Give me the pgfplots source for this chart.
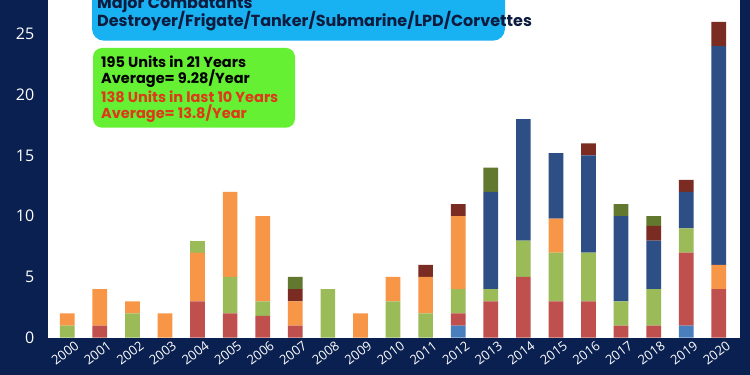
\documentclass[border=0pt]{standalone}
\usepackage{pgfplots}
\pgfplotsset{compat=1.18}
\usepackage{pgfplotstable}
\usepackage{fontspec}
\setmainfont{Open Sans}
\newfontfamily\pop{Poppins}
\definecolor{bg}{HTML}{0A2050}
\definecolor{cblue}{HTML}{4A7FBD}
\definecolor{cred}{HTML}{C0504D}
\definecolor{cgreen}{HTML}{9BBB59}
\definecolor{corange}{HTML}{F79646}
\definecolor{cnavy}{HTML}{2E4F86}
\definecolor{cdred}{HTML}{7A2C22}
\definecolor{colive}{HTML}{62782E}
\definecolor{cyanbox}{HTML}{18B2F2}
\definecolor{greenbox}{HTML}{66F033}
\definecolor{boxtext}{HTML}{0D1B3E}
\definecolor{redtext}{HTML}{DD3A1A}

\pgfplotstableread{
x blue red green orange greenb navy dred olive
0  0 0   1   1   0 0   0   0
1  0 1   0   3   0 0   0   0
2  0 0   2   1   0 0   0   0
3  0 0   0   2   0 0   0   0
4  0 3   0   4   1 0   0   0
5  0 2   3   7   0 0   0   0
6  0 1.8 1.2 7   0 0   0   0
7  0 1   0   2   0 0   1   1
8  0 0   4   0   0 0   0   0
9  0 0   0   2   0 0   0   0
10 0 0   3   2   0 0   0   0
11 0 0   2   3   0 0   1   0
12 1 1   2   6   0 0   1   0
13 0 3   1   0   0 8   0   2
14 0 5   3   0   0 10  0   0
15 0 3   4   2.8 0 5.4 0   0
16 0 3   4   0   0 8   1   0
17 0 1   2   0   0 7   0   1
18 0 1   3   0   0 4   1.2 0.8
19 1 6   2   0   0 3   1   0
20 0 4   0   2   0 18  2   0
}\data

\begin{document}
\begin{tikzpicture}[x=1pt,y=1pt]
\useasboundingbox (-47.7,-37.3) rectangle (702.3,337.7);
\fill[bg] (-47.7,-37.3) rectangle (702.3,337.7);
\begin{axis}[
  at={(0,0)}, anchor=south west,
  scale only axis, width=692.3pt, height=337.7pt,
  xmin=-0.6, xmax=20.65, ymin=0, ymax=27.8,
  ybar stacked, bar width=14.7pt,
  axis background/.style={fill=white},
  axis line style={draw=none},
  major tick length=0pt,
  xtick={0,...,20},
  xticklabels={2000,2001,2002,2003,2004,2005,2006,2007,2008,2009,2010,2011,2012,2013,2014,2015,2016,2017,2018,2019,2020},
  ytick={0,5,10,15,20,25},
  /pgf/number format/assume math mode=true,
  yticklabel style={text=white, font=\fontsize{16}{16}\selectfont, xshift=-10pt},
  xticklabel style={text=white, font=\fontsize{13}{13}\selectfont, rotate=37, anchor=north east, inner sep=1pt, xshift=5pt, yshift=-5pt},
  every axis plot/.append style={draw=none},
]
\addplot[fill=cblue] table[x=x,y=blue]{\data};
\addplot[fill=cred] table[x=x,y=red]{\data};
\addplot[fill=cgreen] table[x=x,y=green]{\data};
\addplot[fill=corange] table[x=x,y=orange]{\data};
\addplot[fill=cgreen] table[x=x,y=greenb]{\data};
\addplot[fill=cnavy] table[x=x,y=navy]{\data};
\addplot[fill=cdred] table[x=x,y=dred]{\data};
\addplot[fill=colive] table[x=x,y=olive]{\data};
\end{axis}
\fill[cyanbox, rounded corners=12pt] (44.3,297) rectangle (457.3,370);
\node[anchor=west, inner sep=0, text=boxtext, font=\pop\bfseries\fontsize{16}{16}\selectfont] at (49.3,333.5) {Major Combatants};
\node[anchor=west, inner sep=0, text=boxtext, font=\pop\bfseries\fontsize{16}{16}\selectfont] at (49.3,316.5) {Destroyer/Frigate/Tanker/Submarine/LPD/Corvettes};
\fill[greenbox, rounded corners=9pt] (45.3,210) rectangle (247.3,289.7);
\node[anchor=west, inner sep=0, text=black, font=\pop\bfseries\fontsize{14.5}{14.5}\selectfont] at (53.3,276.2) {195 Units in 21 Years};
\node[anchor=west, inner sep=0, text=black, font=\pop\bfseries\fontsize{14.5}{14.5}\selectfont] at (53.3,258.6) {Average= 9.28/Year};
\node[anchor=west, inner sep=0, text=redtext, font=\pop\bfseries\fontsize{14.5}{14.5}\selectfont] at (53.3,241.1) {138 Units in last 10 Years};
\node[anchor=west, inner sep=0, text=redtext, font=\pop\bfseries\fontsize{14.5}{14.5}\selectfont] at (53.3,223.9) {Average= 13.8/Year};
\end{tikzpicture}
\end{document}
